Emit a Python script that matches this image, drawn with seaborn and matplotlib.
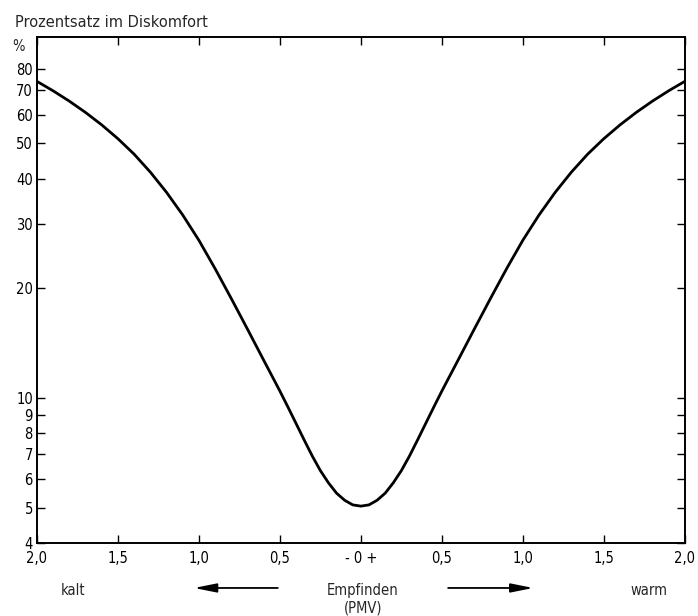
import matplotlib
matplotlib.use("Agg")
import matplotlib.pyplot as plt
import seaborn as sns
import pandas as pd
from matplotlib.ticker import FixedLocator, NullLocator

# PMV (sensation) values, right half; the left half mirrors it
pmv_right = [0.0, 0.05, 0.1, 0.15, 0.2, 0.25, 0.3, 0.35, 0.4, 0.45, 0.5,
             0.6, 0.7, 0.8, 0.9, 1.0, 1.1, 1.2, 1.3, 1.4, 1.5,
             1.6, 1.7, 1.8, 1.9, 2.0]
ppd_right = [5.05, 5.09, 5.24, 5.48, 5.85, 6.32, 6.93, 7.67, 8.51, 9.44, 10.45,
             12.7, 15.45, 18.75, 22.65, 27.1, 31.8, 36.7, 41.7, 46.7, 51.5,
             56.2, 60.8, 65.3, 69.7, 74.0]
pmv = [-v for v in pmv_right[:0:-1]] + pmv_right
ppd = ppd_right[:0:-1] + ppd_right

x_ticks = [-2.0, -1.5, -1.0, -0.5, 0.0, 0.5, 1.0, 1.5, 2.0]
x_labels = ["2,0", "1,5", "1,0", "0,5", "- 0 +", "0,5", "1,0", "1,5", "2,0"]
y_ticks = [4, 5, 6, 7, 8, 9, 10, 20, 30, 40, 50, 60, 70, 80]
y_labels = ["4", "5", "6", "7", "8", "9", "10", "20", "30", "40", "50", "60", "70", "80"]

sns.set_style("ticks")
plt.rcParams['font.family'] = ['DejaVu Sans']
plt.rcParams['font.stretch'] = 'condensed'

df = pd.DataFrame({"PMV": pmv, "PPD": ppd})

fig = plt.figure(figsize=(6.98, 6.16), dpi=100)
ax = fig.add_axes([0.053, 0.1185, 0.928, 0.8215])
sns.lineplot(data=df, x="PMV", y="PPD", ax=ax, color="black", linewidth=2.0)

ax.set_yscale("log")
ax.set_xlim(-2.0, 2.0)
ax.set_ylim(4.0, 98)
ax.yaxis.set_major_locator(FixedLocator(y_ticks))
ax.yaxis.set_minor_locator(NullLocator())
ax.set_yticklabels(y_labels)
ax.set_xticks(x_ticks)
ax.set_xticklabels(x_labels)
ax.tick_params(direction="in", top=True, right=True, length=6, width=1.0,
               labelsize=10.5, colors="black")
ax.tick_params(axis="x", pad=6)
ax.tick_params(axis="y", pad=3)
for s in ax.spines.values():
    s.set_linewidth(1.4)
    s.set_color("black")
ax.set_xlabel("")
ax.set_ylabel("")

fig.text(0.0215, 0.964, "Prozentsatz im Diskomfort", fontsize=10.5,
         fontstretch="normal", ha="left", va="center")
fig.text(0.018, 0.925, "%", fontsize=10.5, ha="left", va="center")

fig.text(0.0875, 0.041, "kalt", fontsize=10.5, ha="left", va="center")
fig.text(0.903, 0.042, "warm", fontsize=10.5, ha="left", va="center")
fig.text(0.52, 0.042, "Empfinden", fontsize=10.5, ha="center", va="center")
fig.text(0.52, 0.013, "(PMV)", fontsize=10.5, ha="center", va="center")
arrow_style = "-|>,head_length=0.75,head_width=0.15"
ax.annotate("", xy=(0.278, 0.0455), xytext=(0.398, 0.0455), xycoords="figure fraction",
            arrowprops=dict(arrowstyle=arrow_style, color="black", lw=1.3,
                            mutation_scale=18, shrinkA=0, shrinkB=0))
ax.annotate("", xy=(0.764, 0.0455), xytext=(0.642, 0.0455), xycoords="figure fraction",
            arrowprops=dict(arrowstyle=arrow_style, color="black", lw=1.3,
                            mutation_scale=18, shrinkA=0, shrinkB=0))

fig.savefig("out.png", dpi=100)
